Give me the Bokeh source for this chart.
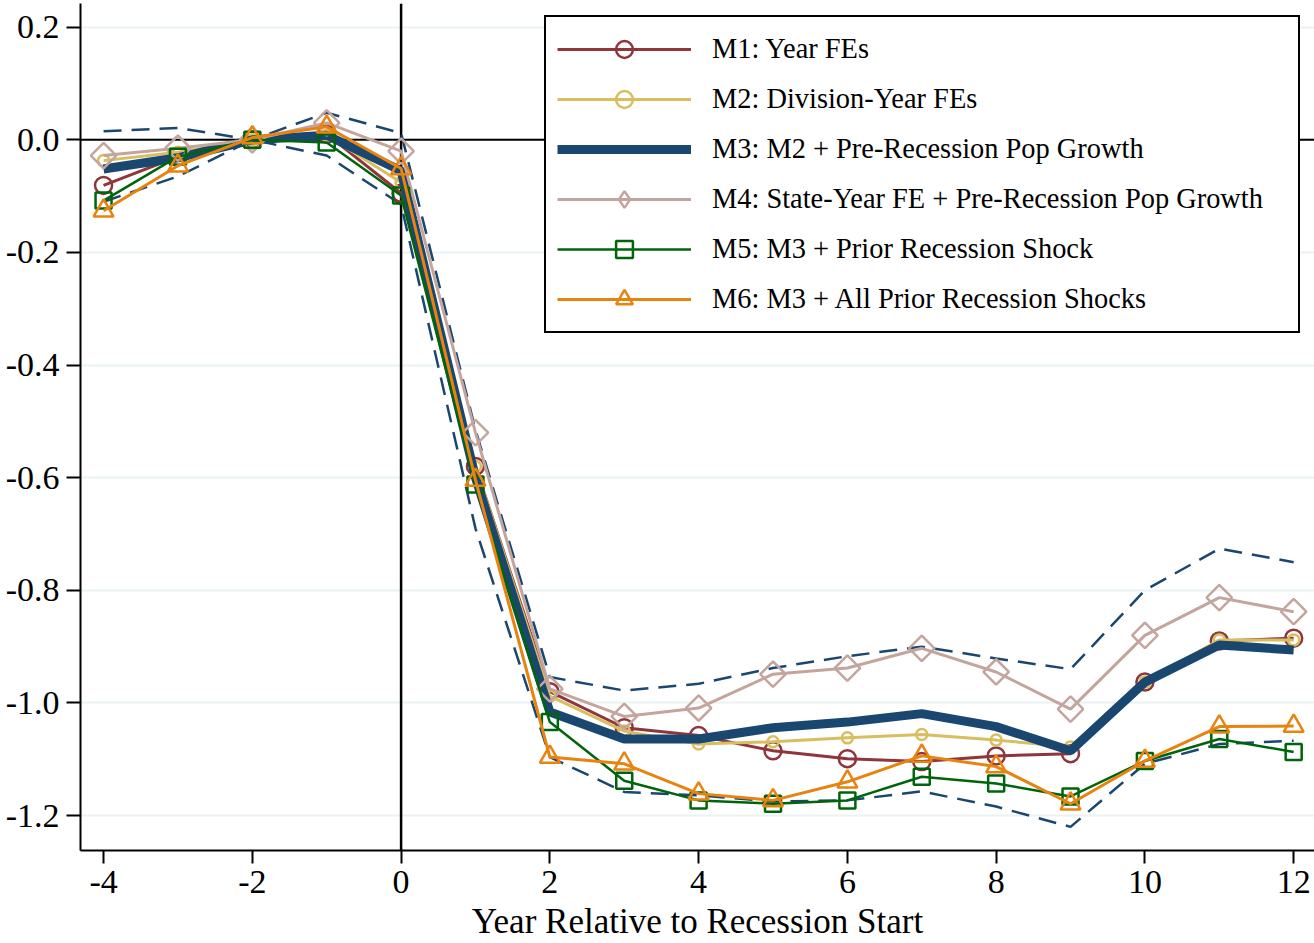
from bokeh.plotting import figure
from bokeh.models import Span, FixedTicker, Legend, LegendItem
from bokeh.embed import file_html
from bokeh.resources import INLINE
import numpy as np

# Event time relative to the start of the recession
years = [-4, -3, -2, -1, 0, 1, 2, 3, 4, 5, 6, 7, 8, 9, 10, 11, 12]

m1 = [-0.081, -0.030, 0.0, 0.010, -0.095, -0.580, -0.980, -1.044, -1.058, -1.085,
      -1.099, -1.104, -1.094, -1.090, -0.963, -0.890, -0.885]
m2 = [-0.037, -0.022, 0.0, 0.008, -0.076, -0.580, -0.988, -1.050, -1.073, -1.069,
      -1.062, -1.056, -1.066, -1.078, -0.963, -0.888, -0.888]
m3 = [-0.052, -0.032, 0.0, 0.008, -0.055, -0.600, -1.016, -1.064, -1.064, -1.044,
      -1.034, -1.019, -1.042, -1.085, -0.963, -0.897, -0.906]
m4 = [-0.028, -0.015, 0.0, 0.030, -0.020, -0.520, -0.975, -1.024, -1.009, -0.949,
      -0.938, -0.903, -0.945, -1.011, -0.880, -0.813, -0.838]
m5 = [-0.108, -0.030, 0.0, -0.005, -0.099, -0.612, -1.034, -1.138, -1.173, -1.179,
      -1.173, -1.131, -1.143, -1.166, -1.103, -1.064, -1.087]
m6 = [-0.126, -0.046, 0.004, 0.023, -0.051, -0.604, -1.096, -1.108, -1.161, -1.173,
      -1.140, -1.094, -1.113, -1.179, -1.103, -1.042, -1.041]

# 95% confidence band around M3
ci_hi = [0.015, 0.021, 0.0, 0.048, 0.012, -0.515, -0.954, -0.978, -0.966, -0.938,
         -0.917, -0.900, -0.921, -0.940, -0.800, -0.726, -0.750]
ci_lo = [-0.110, -0.065, 0.0, -0.028, -0.115, -0.690, -1.096, -1.158, -1.164, -1.175,
         -1.173, -1.157, -1.184, -1.220, -1.108, -1.073, -1.067]

x_ticks = [-4, -2, 0, 2, 4, 6, 8, 10, 12]
x_tick_labels = ["-4", "-2", "0", "2", "4", "6", "8", "10", "12"]
y_ticks = [0.2, 0.0, -0.2, -0.4, -0.6, -0.8, -1.0, -1.2]
y_tick_labels = ["0.2", "0.0", "-0.2", "-0.4", "-0.6", "-0.8", "-1.0", "-1.2"]

labels = [
    "M1: Year FEs",
    "M2: Division-Year FEs",
    "M3: M2 + Pre-Recession Pop Growth",
    "M4: State-Year FE + Pre-Recession Pop Growth",
    "M5: M3 + Prior Recession Shock",
    "M6: M3 + All Prior Recession Shocks",
]

NAVY = "#1a476f"
MAROON = "#90353b"
SAND = "#d8be5e"
ROSE = "#c4a59e"
GREEN = "#00650a"
ORANGE = "#e8830f"
SERIF = "Liberation Serif"

p = figure(width=1314, height=943, output_backend="svg", toolbar_location=None,
           x_range=(-4.31, 12.28), y_range=(-1.262, 0.242),
           min_border_left=80, min_border_right=0, min_border_top=3, min_border_bottom=91)
p.outline_line_color = None
p.background_fill_color = "white"
p.border_fill_color = "white"

# axes
p.xaxis.ticker = FixedTicker(ticks=x_ticks)
p.xaxis.major_label_overrides = {t: s for t, s in zip(x_ticks, x_tick_labels)}
p.yaxis.ticker = FixedTicker(ticks=y_ticks)
p.yaxis.major_label_overrides = {t: s for t, s in zip(y_ticks, y_tick_labels)}
for ax in (p.xaxis, p.yaxis):
    ax.axis_line_color = "black"
    ax.axis_line_width = 2
    ax.major_tick_line_color = "black"
    ax.major_tick_line_width = 2
    ax.major_tick_in = 0
    ax.minor_tick_line_color = None
    ax.major_label_text_font = SERIF
    ax.major_label_text_font_size = "34px"
    ax.major_label_text_color = "black"
p.yaxis.major_tick_out = 14
p.yaxis.major_label_standoff = 7
p.xaxis.major_tick_out = 13
p.xaxis.major_label_standoff = 7
p.xaxis.axis_label = "Year Relative to Recession Start"
p.xaxis.axis_label_text_font = SERIF
p.xaxis.axis_label_text_font_size = "35px"
p.xaxis.axis_label_text_font_style = "normal"
p.xaxis.axis_label_text_color = "black"
p.xaxis.axis_label_standoff = 6

p.xgrid.grid_line_color = None
p.ygrid.grid_line_color = "#eaf2f3"
p.ygrid.grid_line_width = 2

p.add_layout(Span(location=0, dimension="width", line_color="black", line_width=2, level="underlay"))
p.add_layout(Span(location=0, dimension="height", line_color="black", line_width=2.5, level="underlay"))

# confidence band
p.line(years, ci_hi, line_color=NAVY, line_width=2.5, line_dash="18 10")
p.line(years, ci_lo, line_color=NAVY, line_width=2.5, line_dash="18 10")

items = []

r1 = p.line(years, m1, line_color=MAROON, line_width=3)
s1 = p.scatter(years, m1, marker="circle", size=17, line_color=MAROON, line_width=2.5, fill_color=None)
items.append(LegendItem(label=labels[0], renderers=[r1, s1]))

r2 = p.line(years, m2, line_color=SAND, line_width=3)
s2 = p.scatter(years, m2, marker="circle", size=11, line_color=SAND, line_width=2.5, fill_color=None)
items.append(LegendItem(label=labels[1], renderers=[r2, s2]))

r3 = p.line(years, m3, line_color=NAVY, line_width=9)
items.append(LegendItem(label=labels[2], renderers=[r3]))

r4 = p.line(years, m4, line_color=ROSE, line_width=3)
s4 = p.scatter(years, m4, marker="square", angle=np.pi / 4, size=18, line_color=ROSE, line_width=2.5, fill_color=None)
# legend key symbol only (rotated squares lose their angle in the legend box)
k4 = p.scatter([np.nan], [np.nan], marker="diamond", line_color=ROSE, line_width=2.5, fill_color=None)
items.append(LegendItem(label=labels[3], renderers=[r4, k4]))

r5 = p.line(years, m5, line_color=GREEN, line_width=2.5)
s5 = p.scatter(years, m5, marker="square", size=16, line_color=GREEN, line_width=2.5, fill_color=None)
items.append(LegendItem(label=labels[4], renderers=[r5, s5]))

r6 = p.line(years, m6, line_color=ORANGE, line_width=3)
s6 = p.scatter(years, m6, marker="triangle", size=20, line_color=ORANGE, line_width=2.5, fill_color=None)
items.append(LegendItem(label=labels[5], renderers=[r6, s6]))

legend = Legend(items=items, location=(464, 517))
legend.label_text_font = SERIF
legend.label_text_font_size = "28.4px"
legend.label_text_color = "black"
legend.glyph_width = 134
legend.glyph_height = 42
legend.label_standoff = 21
legend.label_height = 42
legend.label_width = 575
legend.spacing = 8
legend.padding = 11
legend.margin = 0
legend.border_line_color = "black"
legend.border_line_alpha = 1.0
legend.border_line_width = 2
legend.background_fill_color = "white"
legend.background_fill_alpha = 1.0
p.add_layout(legend, "center")

open("out.html", "w").write(file_html(p, INLINE))
